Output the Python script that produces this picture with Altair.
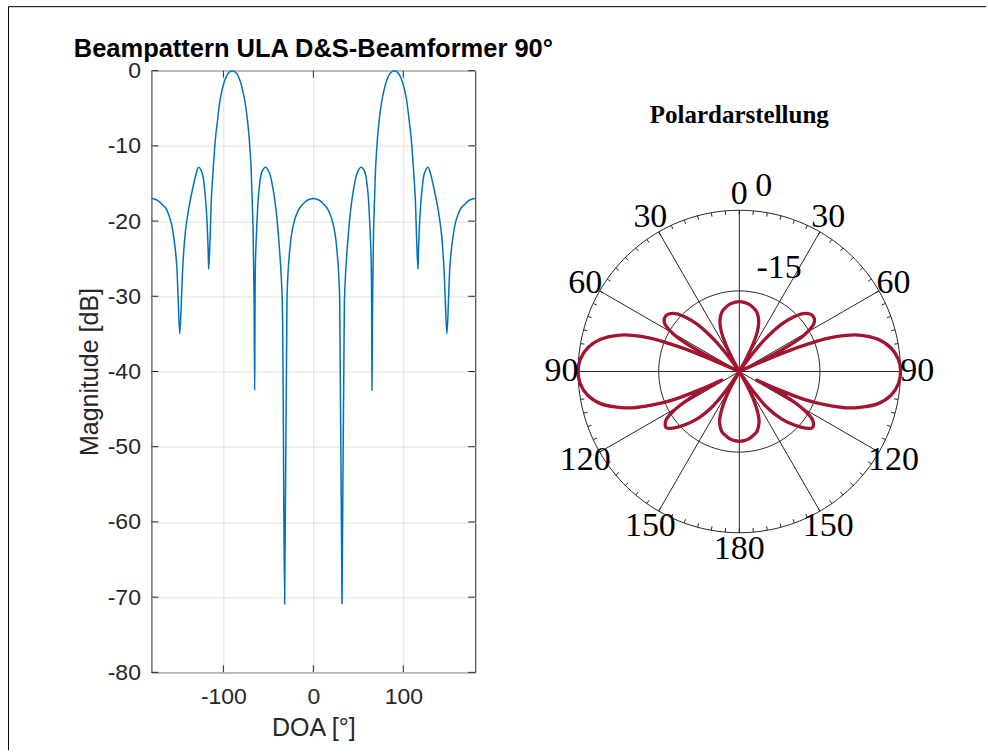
import altair as alt
import pandas as pd

# ---------------- data ----------------
doa_left = [-180, -176, -172, -168, -164, -161, -158, -155, -153, -151.7,
            -150.4, -148.5, -146.5, -145, -142.2, -138.5, -134, -130.5, -127.5, -123.6,
            -120.7, -118.4, -116.9, -116.3, -114.8, -113.3, -111, -108.8, -106.2, -103.2,
            -98.8, -94.3, -90, -85.7, -81.3, -76.8, -73.5, -71.3, -69.4, -68.3,
            -67, -65.9, -65.2, -64.4, -62.8, -60.5, -57, -53, -48.8, -45,
            -41.3, -38.3, -35.8, -34.5, -31.9, -29.3, -28.2, -26.5, -24.5, -22,
            -19, -16, -12, -8, -4, 0]
db_left = [-17.0, -17.1, -17.35, -17.8, -18.3, -19.1, -20.2, -22.3, -24.3, -26.2,
           -30.0, -35.0, -30.0, -25.8, -21.4, -18.3, -15.6, -13.8, -12.85, -13.6,
           -16.0, -19.6, -24.0, -26.4, -22.3, -16.9, -12.5, -9.0, -6.3, -3.6,
           -1.4, -0.3, 0.0, -0.3, -1.4, -3.6, -6.3, -9.0, -12.5, -16.0,
           -21.0, -30.0, -42.5, -25.8, -20.5, -16.0, -13.4, -12.85, -13.6, -15.6,
           -18.7, -22.7, -27.1, -30.8, -70.9, -30.5, -27.0, -24.2, -22.0, -20.4,
           -19.2, -18.4, -17.8, -17.35, -17.1, -17.0]
doa_right = [4, 8, 12, 16, 19, 22, 24.5, 26.5, 28.2, 29.3,
             31.9, 34.5, 35.8, 38.3, 41.3, 45, 48.8, 53, 57, 60.5,
             62.8, 64.4, 65.2, 65.9, 67, 68.3, 69.4, 71.3, 73.5, 76.8,
             81.3, 85.7, 90, 94.3, 98.8, 103.2, 106.2, 108.8, 111, 113.3,
             114.8, 116.3, 116.9, 118.4, 120.7, 123.6, 127.5, 130.5, 134, 138.5,
             142.2, 145, 146.5, 148.5, 150.4, 151.7, 153, 155, 158, 161,
             164, 168, 172, 176, 180]
db_right = [-17.1, -17.35, -17.8, -18.4, -19.2, -20.4, -22.0, -24.2, -27.0, -30.5,
            -70.9, -30.8, -27.1, -22.7, -18.7, -15.6, -13.6, -12.85, -13.4, -16.0,
            -20.5, -25.8, -42.5, -30.0, -21.0, -16.0, -12.5, -9.0, -6.3, -3.6,
            -1.4, -0.3, 0.0, -0.3, -1.4, -3.6, -6.3, -9.0, -12.5, -16.9,
            -22.3, -26.4, -24.0, -19.6, -16.0, -13.6, -12.85, -13.8, -15.6, -18.3,
            -21.4, -25.8, -30.0, -35.0, -30.0, -26.2, -24.3, -22.3, -20.2, -19.1,
            -18.3, -17.8, -17.35, -17.1, -17.0]

x_ticks = [-100, 0, 100]
y_ticks = [0, -10, -20, -30, -40, -50, -60, -70, -80]
polar_angle_labels = [0, 30, 60, 90, 120, 150, 180, -30, -60, -90, -120, -150]
polar_rings_db = [0, -15]
polar_floor_db = -30

title_left = "Beampattern ULA D&S-Beamformer 90°"
title_right = "Polardarstellung"

df = pd.DataFrame({"doa": doa_left + doa_right, "db": db_left + db_right})

# ---------------- styles ----------------
BLUE = "#0072BD"
RED = "#A2142F"
AX = "#262626"
GRID = "#dfdfdf"
SANS = "Liberation Sans"
SERIF = "Liberation Serif"

W1, H1 = 324, 602
xs = alt.Scale(domain=[-180, 180], nice=False, zero=False)
ys = alt.Scale(domain=[-80, 0], nice=False, zero=False)

x_axis = alt.Axis(values=x_ticks, title="DOA [°]", grid=True, gridColor=GRID, gridWidth=1,
                  domain=False, ticks=False, tickSize=0, labelFont=SANS, labelFontSize=23,
                  labelColor=AX, labelPadding=13, labelExpr="'' + datum.value",
                  titleFont=SANS, titleFontSize=25, titleFontWeight="normal",
                  titleColor=AX, titlePadding=7)
y_axis = alt.Axis(values=y_ticks, title="Magnitude [dB]", grid=True, gridColor=GRID, gridWidth=1,
                  domain=False, ticks=False, tickSize=0, labelFont=SANS, labelFontSize=23,
                  labelColor=AX, labelPadding=11, labelExpr="'' + datum.value",
                  titleFont=SANS, titleFontSize=25, titleFontWeight="normal",
                  titleColor=AX, titlePadding=5)

line = alt.Chart(df).mark_line(color=BLUE, strokeWidth=1.5, interpolate="catmull-rom").encode(
    x=alt.X("doa:Q", scale=xs, axis=x_axis),
    y=alt.Y("db:Q", scale=ys, axis=y_axis),
    order="doa:Q",
)

yt = pd.DataFrame({"v": y_ticks})
xt = pd.DataFrame({"v": x_ticks})
TX = 7 / 0.9      # 7 px in degrees
TY = 7 / 7.525    # 7 px in dB
tick_l = alt.Chart(yt).mark_rule(color=AX, strokeWidth=1).encode(
    x=alt.datum(-180), x2=alt.datum(-180 + TX), y=alt.Y("v:Q", scale=ys))
tick_r = alt.Chart(yt).mark_rule(color=AX, strokeWidth=1).encode(
    x=alt.datum(180), x2=alt.datum(180 - TX), y=alt.Y("v:Q", scale=ys))
tick_b = alt.Chart(xt).mark_rule(color=AX, strokeWidth=1).encode(
    x=alt.X("v:Q", scale=xs), y=alt.datum(-80), y2=alt.datum(-80 + TY))
tick_t = alt.Chart(xt).mark_rule(color=AX, strokeWidth=1).encode(
    x=alt.X("v:Q", scale=xs), y=alt.datum(0), y2=alt.datum(-TY))

one = pd.DataFrame({"k": [0]})
ttl1 = alt.Chart(one).mark_text(font=SANS, fontSize=25.5, fontWeight="bold", color="black",
                                align="center", baseline="alphabetic").encode(
    x=alt.value(W1 / 2), y=alt.value(-14), text=alt.value(title_left))

left = alt.layer(line, tick_l, tick_r, tick_b, tick_t, ttl1).properties(
    width=W1, height=H1, view=alt.ViewBackground(stroke=AX, strokeWidth=1))

# ---------------- polar panel ----------------
W2, H2 = 400, 602
R_PX = 161.3
PX = R_PX / (-polar_floor_db)         # pixels per dB unit of radius
xd = W2 / 2 / PX
yd = H2 / 2 / PX
pxs = alt.Scale(domain=[-xd, xd], nice=False, zero=False)
pys = alt.Scale(domain=[-yd, yd], nice=False, zero=False)
RMAX = -polar_floor_db


def rad(expr):
    return f"({expr}) * PI / 180"


rings = []
for v in polar_rings_db:
    rr = v - polar_floor_db
    rings.append(
        alt.Chart(alt.sequence(0, 361, 2, as_="a")).transform_calculate(
            px=f"{rr} * sin({rad('datum.a')})", py=f"{rr} * cos({rad('datum.a')})"
        ).mark_line(color=AX, strokeWidth=1).encode(
            x=alt.X("px:Q", scale=pxs, axis=None), y=alt.Y("py:Q", scale=pys, axis=None),
            order="a:Q")
    )

spokes = alt.Chart(alt.sequence(0, 360, 30, as_="a")).transform_calculate(
    z="0", px2=f"{RMAX} * sin({rad('datum.a')})", py2=f"{RMAX} * cos({rad('datum.a')})"
).mark_rule(color=AX, strokeWidth=1).encode(
    x=alt.X("z:Q", scale=pxs, axis=None), y=alt.Y("z:Q", scale=pys, axis=None),
    x2="px2:Q", y2="py2:Q")

TK = RMAX - 4 / PX
ticks_p = alt.Chart(alt.sequence(0, 360, 5, as_="a")).transform_calculate(
    p1=f"{RMAX} * sin({rad('datum.a')})", q1=f"{RMAX} * cos({rad('datum.a')})",
    p2=f"{TK} * sin({rad('datum.a')})", q2=f"{TK} * cos({rad('datum.a')})"
).mark_rule(color=AX, strokeWidth=1).encode(
    x=alt.X("p1:Q", scale=pxs, axis=None), y=alt.Y("q1:Q", scale=pys, axis=None),
    x2="p2:Q", y2="q2:Q")

polar = alt.Chart(df).transform_calculate(
    r=f"max(datum.db - ({polar_floor_db}), 0)"
).transform_calculate(
    px=f"datum.r * sin({rad('datum.doa')})", py=f"datum.r * cos({rad('datum.doa')})"
).mark_line(color=RED, strokeWidth=3.3, interpolate="catmull-rom").encode(
    x=alt.X("px:Q", scale=pxs, axis=None), y=alt.Y("py:Q", scale=pys, axis=None),
    order="doa:Q")

LR = 178 / PX
ang_labels = alt.Chart(pd.DataFrame({"ang": polar_angle_labels})).transform_calculate(
    px=f"{LR} * sin({rad('datum.ang')})", py=f"{LR} * cos({rad('datum.ang')})",
    t="'' + abs(datum.ang)"
).mark_text(font=SERIF, fontSize=34, color="black", align="center", baseline="middle").encode(
    x=alt.X("px:Q", scale=pxs, axis=None), y=alt.Y("py:Q", scale=pys, axis=None), text="t:N")

rl0 = alt.Chart(one).mark_text(font=SERIF, fontSize=34, color="black", align="center",
                               baseline="middle").encode(
    x=alt.datum(4.56, scale=pxs), y=alt.datum(34.5, scale=pys), text=alt.value(str(polar_rings_db[0])))
rl1 = alt.Chart(one).mark_text(font=SERIF, fontSize=34, color="black", align="center",
                               baseline="middle").encode(
    x=alt.datum(7.4, scale=pxs), y=alt.datum(19.2, scale=pys), text=alt.value(str(polar_rings_db[1])))

ttl2 = alt.Chart(one).mark_text(font=SERIF, fontSize=25, fontWeight="bold", color="black",
                                align="center", baseline="alphabetic").encode(
    x=alt.value(W2 / 2), y=alt.value(52), text=alt.value(title_right))

frame_v = alt.Chart(one).mark_rule(color="black", strokeWidth=1).encode(
    x=alt.value(-531.2), y=alt.value(-64), y2=alt.value(680))
frame_h = alt.Chart(one).mark_rule(color="black", strokeWidth=1).encode(
    x=alt.value(-531.2), x2=alt.value(447), y=alt.value(-64))

right = alt.layer(*rings, spokes, ticks_p, polar, ang_labels, rl0, rl1, ttl2,
                  frame_v, frame_h).properties(width=W2, height=H2)

chart = alt.hconcat(left, right, spacing=64.2, bounds="flush").properties(
    padding={"left": 6.5, "top": 5.5, "right": 0, "bottom": 2},
    background="white",
).configure_view(stroke="transparent")

chart.save("out.html", embed_options={"renderer": "svg", "actions": False})
